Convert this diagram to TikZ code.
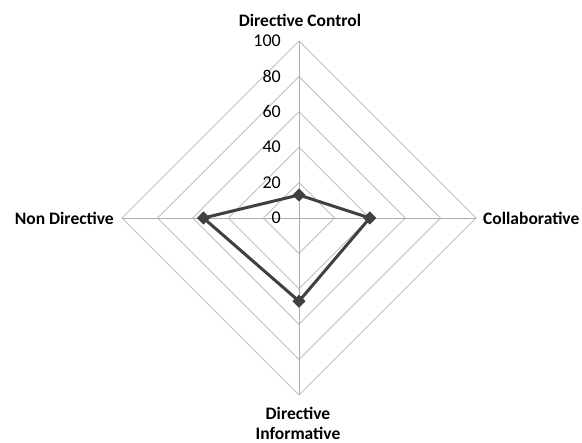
\documentclass[tikz,border=0pt]{standalone}
\usepackage{fontspec}
\setmainfont{Carlito}
\usetikzlibrary{shapes.geometric}
\begin{document}
\begin{tikzpicture}[x=1pt,y=-1pt,
  grid/.style={draw=black!25,line width=0.9pt},
  axisline/.style={draw=black!32,line width=0.9pt},
  series/.style={draw=black!75,line width=3pt,line join=miter},
  marker/.style={diamond,fill=black!75,inner sep=0pt,minimum size=13pt},
  ticklbl/.style={anchor=east,font=\fontsize{18}{18}\selectfont,inner sep=0pt},
  axlbl/.style={font=\bfseries\fontsize{17.5}{20}\selectfont,inner sep=0pt,align=center}]
\useasboundingbox (0,0) rectangle (582,443);
\def\cx{299}\def\cy{218}\def\R{177}
% grid rings
\foreach \k in {1,...,5}{
  \pgfmathsetmacro\r{\R*\k/5}
  \draw[grid] (\cx,\cy-\r) -- (\cx+\r,\cy) -- (\cx,\cy+\r) -- (\cx-\r,\cy) -- cycle;
}
% axes
\coordinate (top) at (\cx,\cy-\R);
\coordinate (bot) at (\cx,\cy+\R);
\coordinate (lft) at (\cx-\R,\cy);
\coordinate (rgt) at (\cx+\R,\cy);
\coordinate (ctr) at (\cx,\cy);
\draw[axisline] (ctr) -- (top);
\draw[axisline] (ctr) -- (bot);
\draw[axisline] (ctr) -- (lft);
\draw[axisline] (ctr) -- (rgt);
% tick labels
\foreach \v [count=\i from 0] in {0,20,40,60,80,100}{
  \node[ticklbl] (t\i) at (281,\cy-\R*\i/5) {\v};
}
% series
\node[marker] (pDC) at (\cx,\cy-\R*0.13) {};
\node[marker] (pCO) at (\cx+\R*0.40,\cy) {};
\node[marker] (pDI) at (\cx,\cy+\R*0.47) {};
\node[marker] (pND) at (\cx-\R*0.54,\cy) {};
\draw[series] (pDC.center) -- (pCO.center) -- (pDI.center) -- (pND.center) -- cycle;
\node[marker] at (pDC) {};
\node[marker] at (pCO) {};
\node[marker] at (pDI) {};
\node[marker] at (pND) {};
% axis labels
\node[axlbl] (lDC) at (300,20) {Directive Control};
\node[axlbl,anchor=west] (lCO) at (483,\cy) {Collaborative};
\node[axlbl,anchor=east] (lND) at (114,\cy) {Non Directive};
\node[axlbl] (lDI) at (298,423) {Directive\\Informative};
\end{tikzpicture}
\end{document}
